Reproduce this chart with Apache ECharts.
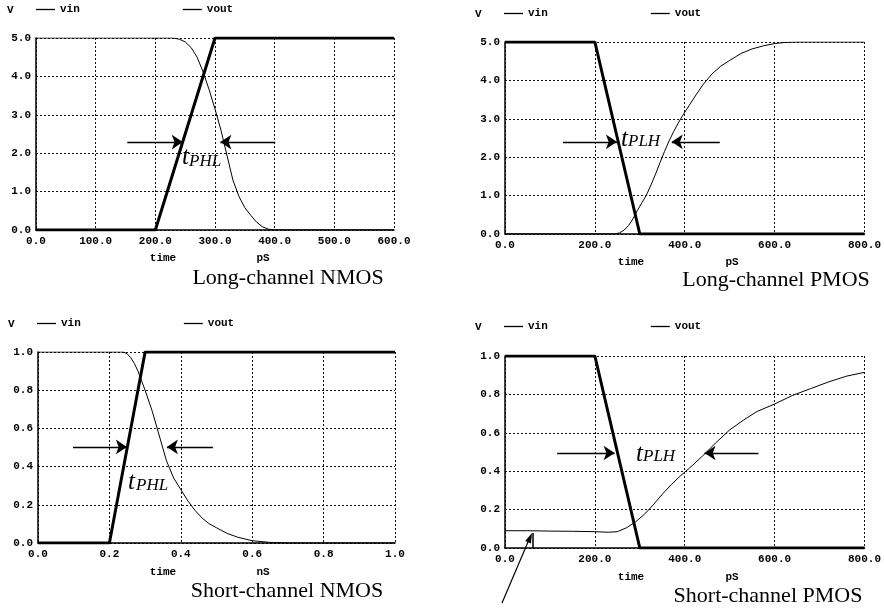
<!DOCTYPE html>
<html>
<head>
<meta charset="utf-8">
<script src="https://cdn.jsdelivr.net/npm/echarts@6/dist/echarts.min.js"></script>
<style>
html,body{margin:0;padding:0;background:#fff;}
#chart{width:884px;height:613px;}
</style>
</head>
<body>
<div id="chart"></div>
<script>
// ---------- data ----------
// Long-channel NMOS (time in pS, volts)
const lnVinTime = [0, 200, 300, 600];
const lnVinVal  = [0, 0, 5, 5];
const lnVoutTime = [0, 230, 240, 250, 260, 270, 280, 290, 300, 310, 320, 330, 340, 350, 360, 370, 380, 390, 400, 600];
const lnVoutVal  = [5, 5, 4.97, 4.9, 4.75, 4.5, 4.12, 3.66, 3.15, 2.6, 1.95, 1.3, 0.88, 0.58, 0.38, 0.2, 0.08, 0.02, 0, 0];

// Long-channel PMOS (time in pS, volts)
const lpVinTime = [0, 200, 300, 800];
const lpVinVal  = [5, 5, 0, 0];
const lpVoutTime = [0, 245, 255, 265, 275, 285, 295, 305, 315, 325, 335, 345, 355, 365, 375, 385, 395, 410, 425, 440, 460, 480, 500, 525, 550, 575, 600, 625, 650, 800];
const lpVoutVal  = [0, 0, 0.03, 0.1, 0.22, 0.4, 0.62, 0.82, 1.02, 1.28, 1.56, 1.86, 2.15, 2.42, 2.66, 2.88, 3.08, 3.35, 3.62, 3.88, 4.16, 4.37, 4.52, 4.7, 4.82, 4.9, 4.96, 4.99, 5.0, 5.0];

// Short-channel NMOS (time in nS, volts)
const snVinTime = [0, 0.2, 0.3, 1.0];
const snVinVal  = [0, 0, 1, 1];
const snVoutTime = [0, 0.24, 0.25, 0.26, 0.27, 0.28, 0.29, 0.30, 0.32, 0.34, 0.36, 0.38, 0.40, 0.42, 0.44, 0.46, 0.48, 0.50, 0.53, 0.56, 0.60, 0.65, 0.70, 1.0];
const snVoutVal  = [1, 1, 0.99, 0.97, 0.94, 0.9, 0.85, 0.8, 0.69, 0.56, 0.43, 0.34, 0.28, 0.22, 0.17, 0.13, 0.1, 0.08, 0.05, 0.03, 0.012, 0.003, 0, 0];

// Short-channel PMOS (time in pS, volts)
const spVinTime = [0, 200, 300, 800];
const spVinVal  = [1, 1, 0, 0];
const spVoutTime = [0, 50, 100, 150, 200, 230, 250, 270, 290, 310, 330, 350, 370, 390, 410, 440, 470, 500, 530, 560, 600, 640, 680, 720, 760, 800];
const spVoutVal  = [0.09, 0.09, 0.088, 0.087, 0.085, 0.082, 0.085, 0.105, 0.135, 0.175, 0.225, 0.28, 0.33, 0.375, 0.415, 0.48, 0.55, 0.615, 0.665, 0.71, 0.75, 0.795, 0.83, 0.865, 0.895, 0.915];

// delay annotation arrows: [fromTime, toTime, level]
const lnArrows = [[153, 246, 2.29], [401, 309, 2.29]];
const lpArrows = [[129, 249, 2.4], [478, 371, 2.4]];
const snArrows = [[0.098, 0.249, 0.503], [0.49, 0.361, 0.503]];
const spArrows = [[116, 244, 0.495], [564, 444, 0.495]];

const captions = ['Long-channel NMOS', 'Long-channel PMOS', 'Short-channel NMOS', 'Short-channel PMOS'];
const delayNames = ['PHL', 'PLH', 'PHL', 'PLH'];
const timeUnits = ['pS', 'pS', 'nS', 'pS'];

// ---------- helpers ----------
const zip = (t, v) => t.map((x, i) => [x, v[i]]);
const MONO = '"Liberation Mono", "DejaVu Sans Mono", monospace';
const SERIF = '"Liberation Serif", "DejaVu Serif", serif';

const grids = [
  {left: 36, top: 38, width: 358, height: 192},
  {left: 505, top: 42, width: 360, height: 192},
  {left: 38, top: 352, width: 357, height: 191},
  {left: 505, top: 356, width: 360, height: 192}
];
const xRanges = [[0, 600, 100], [0, 800, 200], [0, 1, 0.2], [0, 800, 200]];
const yRanges = [[0, 5, 1], [0, 5, 1], [0, 1, 0.2], [0, 1, 0.2]];

const xAxes = xRanges.map((r, i) => ({
  type: 'value', gridIndex: i, min: r[0], max: r[1], interval: r[2],
  axisLine: {show: true, onZero: false, lineStyle: {color: '#000', width: 1.5}},
  axisTick: {show: false},
  axisLabel: {margin: 6, color: '#000', fontFamily: MONO, fontSize: 11, fontWeight: 'bold',
              formatter: v => v.toFixed(1)},
  splitLine: {show: true, lineStyle: {color: '#111', width: 1, type: [2, 2]}}
}));
const yAxes = yRanges.map((r, i) => ({
  type: 'value', gridIndex: i, min: r[0], max: r[1], interval: r[2],
  axisLine: {show: true, onZero: false, lineStyle: {color: '#000', width: 1.5}},
  axisTick: {show: false},
  axisLabel: {margin: 5, color: '#000', fontFamily: MONO, fontSize: 11, fontWeight: 'bold',
              formatter: v => v.toFixed(1)},
  splitLine: {show: true, lineStyle: {color: '#111', width: 1, type: [2, 2]}}
}));

function arrowMark(arrows) {
  return {
    silent: true,
    symbol: ['none', 'arrow'],
    symbolSize: 11,
    lineStyle: {color: '#000', width: 1.3, type: 'solid'},
    label: {show: false},
    emphasis: {disabled: true},
    data: arrows.map(a => [{coord: [a[0], a[2]]}, {coord: [a[1], a[2]]}])
  };
}

const panels = [
  [lnVinTime, lnVinVal, lnVoutTime, lnVoutVal, lnArrows],
  [lpVinTime, lpVinVal, lpVoutTime, lpVoutVal, lpArrows],
  [snVinTime, snVinVal, snVoutTime, snVoutVal, snArrows],
  [spVinTime, spVinVal, spVoutTime, spVoutVal, spArrows]
];
const series = [];
panels.forEach((p, i) => {
  series.push({
    name: 'vin', type: 'line', xAxisIndex: i, yAxisIndex: i,
    data: zip(p[0], p[1]), symbol: 'none', showSymbol: false,
    lineStyle: {color: '#000', width: 3}, itemStyle: {color: '#000'}, z: 3
  });
  series.push({
    name: 'vout', type: 'line', xAxisIndex: i, yAxisIndex: i,
    data: zip(p[2], p[3]), symbol: 'none', showSymbol: false,
    lineStyle: {color: '#000', width: 1}, itemStyle: {color: '#000'}, z: 4,
    markLine: arrowMark(p[4])
  });
});

const legendPos = [[36, 10], [504, 14], [37, 324], [504, 327]];
const legends = legendPos.map(p => ({
  data: [{name: 'vin', icon: 'rect'}, {name: 'vout', icon: 'rect'}],
  left: p[0], top: p[1] - 6, itemWidth: 19, itemHeight: 1.3, itemGap: 103,
  padding: 0, selectedMode: false,
  itemStyle: {color: '#000', borderWidth: 0},
  textStyle: {fontFamily: MONO, fontSize: 11, fontWeight: 'bold', color: '#000'}
}));

// text annotations (pixel positions)
const graphic = [];
const vPos = [[7, 10], [475, 14], [8, 324], [475, 327]];
vPos.forEach(p => graphic.push({type: 'text', x: p[0], y: p[1],
  style: {text: 'V', font: 'bold 11px ' + MONO, fill: '#000', verticalAlign: 'middle'}}));
const timePos = [[163, 263, 258], [631, 732, 262], [163, 263, 572], [631, 732, 577]];
timePos.forEach((p, i) => {
  graphic.push({type: 'text', x: p[0], y: p[2],
    style: {text: 'time', font: 'bold 11px ' + MONO, fill: '#000', align: 'center', verticalAlign: 'middle'}});
  graphic.push({type: 'text', x: p[1], y: p[2],
    style: {text: timeUnits[i], font: 'bold 11px ' + MONO, fill: '#000', align: 'center', verticalAlign: 'middle'}});
});
const capPos = [[288, 278], [776, 280], [287, 591], [768, 596]];
capPos.forEach((p, i) => graphic.push({type: 'text', x: p[0], y: p[1],
  style: {text: captions[i], font: '22px ' + SERIF, fill: '#000', align: 'center', verticalAlign: 'middle'}}));
// t_PHL / t_PLH labels: [tLeft, tBaseline, subLeft, subBaseline]
const delayPos = [[182, 165, 189, 168], [621, 147, 628, 148], [128, 490, 136, 492], [636, 462, 643, 463]];
delayPos.forEach((p, i) => {
  graphic.push({type: 'text', x: p[0], y: p[1] - 8,
    style: {text: 't', font: 'italic 25px ' + SERIF, fill: '#000', verticalAlign: 'middle'}});
  graphic.push({type: 'text', x: p[2], y: p[3] - 6,
    style: {text: delayNames[i], font: 'italic 17px ' + SERIF, fill: '#000', verticalAlign: 'middle'}});
});
// pointer arrow in short-channel PMOS panel
graphic.push({type: 'line', shape: {x1: 502, y1: 603, x2: 528, y2: 542}, style: {stroke: '#000', lineWidth: 1.2}});
graphic.push({type: 'polygon', shape: {points: [[532, 533], [531, 543.5], [525.2, 541]]}, style: {fill: '#000'}});
graphic.push({type: 'line', shape: {x1: 533, y1: 533, x2: 533, y2: 548}, style: {stroke: '#000', lineWidth: 1.5}});

const chart = echarts.init(document.getElementById('chart'), null, {renderer: 'canvas'});
chart.setOption({
  backgroundColor: '#fff',
  animation: false,
  grid: grids,
  xAxis: xAxes,
  yAxis: yAxes,
  legend: legends,
  series: series,
  graphic: graphic
});
</script>
</body>
</html>
